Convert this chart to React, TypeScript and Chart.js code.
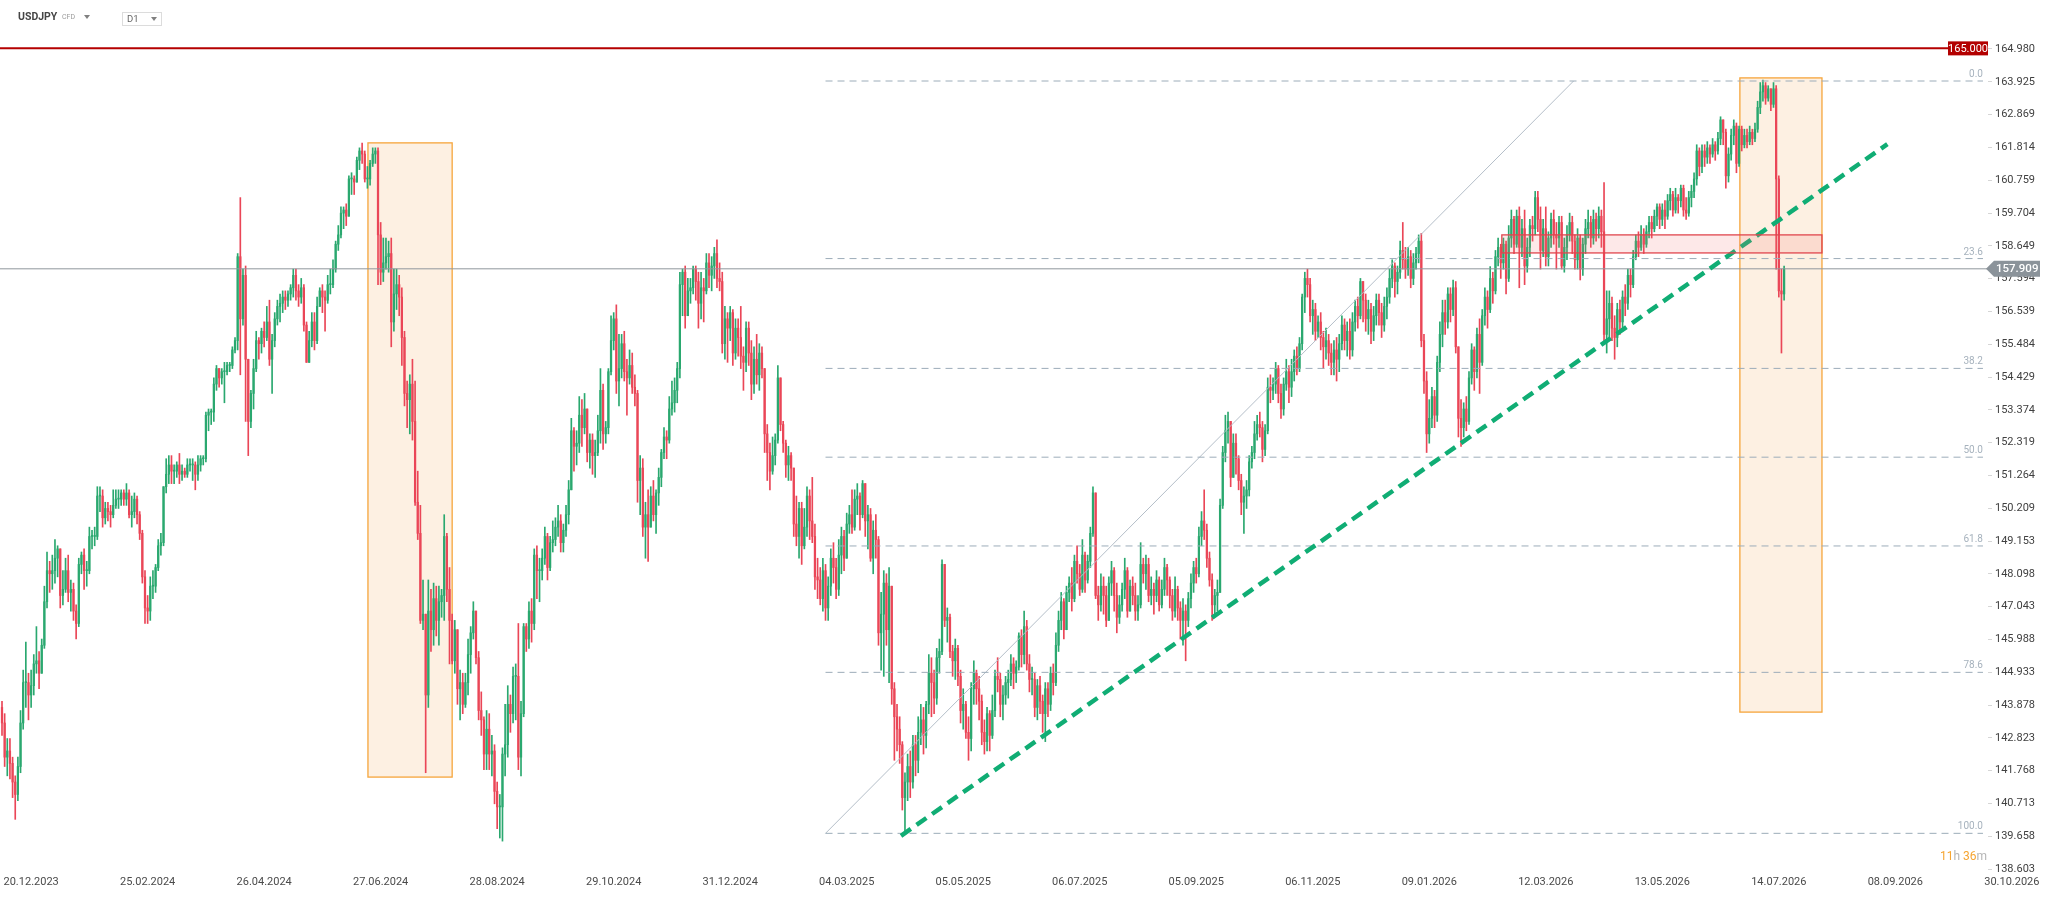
import React, { useEffect, useRef } from 'react';
import { Chart, registerables } from 'chart.js';

Chart.register(...registerables);

// ---------- data ----------
const firstOpen = 143.8;

const closes = [
  143.3,142.2,142.4,142.0,141.4,141.0,141.9,143.3,144.6,144.6,
  144.2,144.5,145.2,145.3,144.9,145.8,147.2,148.2,148.1,148.2,
  148.6,148.9,147.4,147.6,148.2,147.5,147.6,146.9,146.5,148.4,
  148.7,148.2,148.2,149.3,149.3,149.3,150.6,150.6,149.9,150.2,
  150.1,150.0,150.3,150.5,150.5,150.7,150.5,150.7,150.0,150.1,
  150.5,150.0,149.4,148.0,147.0,146.9,147.7,147.7,148.3,149.0,
  149.1,150.9,151.3,151.6,151.4,151.4,151.6,151.3,151.4,151.3,
  151.6,151.6,151.6,151.3,151.6,151.8,151.8,153.2,153.3,153.3,
  154.2,154.7,154.4,154.6,154.6,154.8,154.8,155.3,155.6,158.3,
  156.3,157.7,155.0,153.0,153.9,154.7,155.6,155.5,155.9,155.7,
  156.2,155.0,155.6,156.3,156.7,156.8,157.0,156.9,157.1,157.3,
  157.7,157.2,157.0,157.3,156.1,154.9,155.6,156.2,155.6,156.7,
  157.2,157.0,156.9,157.4,157.4,157.9,158.7,159.0,159.7,159.8,
  159.6,160.8,160.8,160.7,161.4,161.7,161.6,160.8,160.8,161.3,
  161.6,161.7,159.0,157.8,158.1,158.3,158.4,156.2,157.1,157.4,
  157.0,155.7,153.9,153.7,154.2,153.0,150.4,149.4,146.6,146.8,
  144.2,146.9,146.3,147.3,146.6,147.2,147.4,149.3,147.6,146.6,
  145.3,146.3,144.4,144.6,143.9,144.6,145.5,146.2,146.9,145.4,
  143.7,143.4,142.3,143.1,142.3,142.4,141.1,140.6,140.6,142.3,
  142.6,143.9,143.6,144.8,144.8,142.2,143.6,146.4,146.0,146.9,
  146.5,148.7,148.2,148.2,148.6,149.3,148.3,149.1,149.2,149.6,
  149.8,149.1,149.5,150.0,150.8,152.7,152.2,152.3,153.2,152.8,
  153.4,152.0,152.4,151.9,152.0,152.7,154.0,152.6,152.8,154.6,
  155.6,156.3,154.3,154.7,155.5,154.6,154.4,154.8,154.1,153.9,
  151.1,151.5,149.6,150.0,149.6,150.6,150.0,150.7,151.2,152.0,
  152.5,152.4,153.4,153.6,154.0,154.7,157.4,157.8,156.4,157.2,
  157.3,157.9,157.5,156.8,157.3,157.2,158.1,157.7,158.0,158.4,
  157.6,157.5,155.5,156.3,156.0,156.5,155.2,156.0,155.7,155.1,
  154.9,156.0,155.2,154.2,155.0,154.5,155.2,154.7,152.6,152.0,
  151.4,151.9,152.4,154.4,152.9,152.3,151.6,151.9,151.5,149.7,
  149.3,150.2,149.0,149.6,150.6,149.8,149.3,148.0,147.9,147.3,
  148.2,147.0,147.7,148.6,148.3,147.6,148.7,149.3,148.6,149.7,
  150.0,149.6,150.5,150.6,150.0,151.0,149.8,150.0,148.6,149.5,
  149.2,146.2,146.8,147.8,146.3,147.7,144.4,143.5,143.1,142.6,
  140.9,141.4,141.9,141.4,142.6,142.1,143.0,143.4,142.9,143.9,
  144.9,144.6,144.1,145.4,145.6,148.4,146.6,146.7,145.6,145.3,
  145.7,144.8,143.7,143.9,143.0,142.8,144.4,144.9,144.4,144.0,
  143.0,142.7,143.6,142.9,143.7,144.8,144.7,143.9,144.2,144.6,
  144.7,145.2,144.9,145.1,146.1,145.5,146.4,145.2,144.7,144.7,
  143.8,144.5,144.0,143.6,144.4,143.9,144.9,144.6,145.8,146.6,
  147.2,146.3,147.5,147.8,147.3,148.5,148.1,147.6,148.7,147.9,
  148.5,149.4,150.7,147.4,147.1,147.7,147.4,146.6,147.8,148.2,
  147.4,146.7,147.1,147.6,148.2,146.9,147.7,147.4,146.9,147.1,
  148.4,148.1,148.4,147.4,147.6,147.4,147.9,147.1,147.6,148.3,
  147.9,147.4,146.9,147.6,147.0,146.6,146.9,146.6,147.3,147.8,
  148.3,148.1,149.3,149.8,149.5,148.6,147.9,147.1,147.4,147.5,
  150.3,152.0,152.7,153.0,151.2,152.3,151.8,151.1,150.4,150.6,
  150.8,151.7,152.0,152.6,152.9,152.8,152.1,152.7,154.1,154.0,
  154.2,154.7,153.9,153.4,154.2,154.6,154.1,154.6,155.1,154.7,
  155.5,157.0,157.6,157.4,156.4,156.6,155.9,156.2,155.7,155.4,
  155.6,155.2,154.9,155.3,155.0,155.5,156.1,155.6,155.9,155.3,
  156.2,156.7,156.4,157.5,156.9,156.3,156.6,155.9,156.4,156.9,
  156.5,156.1,156.7,157.0,157.6,158.0,157.5,157.8,158.5,158.2,
  157.9,158.3,157.6,158.1,158.4,158.8,155.6,154.3,152.6,153.1,
  153.8,153.2,154.9,155.8,156.5,156.2,157.1,156.6,157.3,155.4,
  153.1,152.8,153.4,153.0,154.4,155.3,154.6,155.8,154.9,156.4,
  157.0,156.6,157.6,157.2,158.3,158.6,158.1,158.7,157.6,158.9,
  159.5,158.7,159.6,158.6,159.2,158.0,158.6,159.3,159.2,160.2,
  159.5,158.5,159.2,158.3,158.9,159.5,159.0,158.9,159.4,158.0,
  158.6,159.0,159.4,158.8,158.2,158.9,157.9,158.7,159.2,159.4,
  158.9,159.5,159.2,159.6,159.1,155.8,156.3,156.8,156.0,155.7,
  156.6,156.2,157.0,156.8,157.7,157.4,158.3,158.8,158.6,159.0,
  158.7,159.1,159.4,159.2,159.6,159.9,159.5,159.8,159.6,160.1,
  160.3,159.8,160.2,160.1,160.5,159.8,159.7,160.2,160.4,160.8,
  161.7,161.2,161.7,161.5,161.8,161.6,161.9,161.7,162.1,162.7,
  162.3,160.9,161.6,162.2,162.5,161.3,162.4,161.9,162.2,162.0,
  162.3,162.1,162.4,163.1,163.6,163.8,163.4,163.7,163.2,163.7,
  160.8,157.2,157.1,157.909,
];

const highs = [
  144.0,143.6,142.8,142.8,142.2,141.6,142.2,143.7,145.0,145.9,
  144.9,145.0,145.5,146.4,145.6,146.0,147.7,148.8,148.5,148.7,
  149.2,149.0,148.8,148.2,148.6,148.7,147.9,147.8,147.1,148.6,
  148.8,148.9,148.5,149.6,149.5,149.6,150.9,150.9,150.8,150.4,
  150.4,150.3,150.8,150.8,150.8,150.8,150.8,151.0,150.8,150.6,
  150.7,150.6,150.1,149.5,148.2,147.4,148.0,148.2,148.4,149.2,
  149.4,150.9,151.8,151.9,151.9,151.6,151.7,151.97,151.6,151.5,
  151.8,151.8,151.8,151.7,151.9,151.9,151.9,153.3,153.4,153.4,
  154.4,154.8,154.7,154.7,154.9,154.9,154.9,155.4,155.7,158.4,
  160.2,157.9,158.0,153.9,154.0,155.0,155.9,155.7,156.0,156.2,
  156.7,156.9,155.8,156.5,156.9,157.1,157.2,157.2,157.2,157.4,
  157.9,157.9,157.4,157.6,157.4,156.2,155.9,156.5,156.5,157.0,
  157.3,157.4,157.2,157.7,157.9,158.2,158.8,159.3,159.9,159.9,
  160.0,160.9,161.0,160.9,161.5,161.8,161.95,161.7,161.2,161.4,
  161.8,161.8,161.8,159.4,158.9,158.9,158.8,158.9,157.9,157.9,
  157.7,157.3,155.9,154.3,154.5,155.0,154.3,151.4,150.3,147.9,
  146.7,147.9,147.6,147.8,147.7,147.7,147.6,150.0,149.4,148.3,
  146.8,146.6,146.0,145.0,144.9,144.9,146.0,146.4,147.2,146.7,
  145.6,144.3,143.5,143.7,143.6,142.9,142.6,141.4,141.0,142.5,
  143.9,144.5,144.2,145.1,145.2,146.5,144.0,146.5,146.5,147.2,
  147.3,148.9,149.0,148.6,148.9,149.6,149.4,149.3,149.8,149.9,
  150.3,150.0,149.7,150.3,151.1,153.1,152.8,152.7,153.8,153.7,
  153.9,153.4,152.6,152.6,152.4,153.2,154.7,154.2,153.0,154.7,
  156.4,156.5,156.75,155.8,155.8,155.9,155.0,155.3,155.2,154.5,
  154.0,151.9,151.8,150.4,150.8,150.9,151.1,150.8,151.5,152.1,
  152.8,152.7,153.8,154.3,154.4,154.9,157.8,157.9,158.0,157.6,
  157.6,158.0,158.0,157.8,157.8,157.6,158.4,158.4,158.3,158.6,
  158.84,158.1,157.8,156.7,156.5,156.7,156.6,156.3,156.3,156.7,
  155.4,156.2,156.2,155.6,155.4,155.8,155.5,155.4,154.4,152.9,
  152.3,152.5,152.6,154.8,154.2,153.0,152.4,152.2,152.0,151.3,
  150.6,150.4,150.4,150.2,150.9,150.8,151.2,149.7,148.6,148.3,
  148.6,148.4,148.0,148.9,149.1,148.6,149.2,149.6,149.5,150.05,
  150.3,150.8,150.8,151.0,150.7,151.1,150.4,150.3,150.2,149.8,
  150.0,149.3,147.5,148.2,148.1,148.3,147.6,144.6,143.9,143.5,
  142.7,141.7,142.3,142.4,142.9,142.9,143.5,143.9,143.8,144.0,
  145.5,145.4,145.0,145.7,146.0,148.55,148.3,147.0,146.8,145.8,
  146.0,145.8,145.0,144.4,144.0,143.5,144.6,145.3,145.0,144.8,
  144.2,143.4,143.8,143.7,144.2,145.0,145.4,144.9,144.5,144.8,
  145.0,145.5,145.4,145.3,146.2,146.3,146.9,146.6,145.5,145.1,
  144.9,144.7,144.8,144.2,144.6,144.6,145.1,145.2,146.2,146.9,
  147.5,147.3,147.7,148.0,148.3,148.7,149.0,148.4,149.2,148.8,
  148.7,149.6,150.9,150.7,147.7,148.1,148.0,147.7,148.0,148.5,
  148.3,147.8,147.4,147.8,148.6,148.3,147.9,148.0,147.8,147.4,
  149.1,148.6,148.7,148.6,148.0,147.8,148.2,148.0,147.9,148.6,
  148.4,148.0,147.6,148.0,147.7,147.2,147.3,147.1,147.5,148.1,
  148.5,148.6,149.6,150.1,150.8,149.7,148.8,148.1,147.6,147.9,
  150.5,152.2,153.2,153.3,153.0,152.6,152.6,151.9,151.3,150.9,
  151.1,151.9,152.2,153.0,153.2,153.3,153.0,152.9,154.4,154.5,
  154.4,154.9,154.8,154.2,154.4,155.0,154.8,155.0,155.3,155.4,
  155.7,157.1,157.8,157.9,157.6,156.9,156.8,156.4,156.5,155.9,
  156.0,155.8,155.5,155.6,155.7,155.8,156.4,156.3,156.2,156.3,
  156.5,156.9,157.0,157.6,157.3,157.1,156.9,156.8,156.7,157.1,
  157.1,156.8,157.0,157.3,157.9,158.2,158.1,158.0,158.8,159.4,
  158.6,158.6,158.5,158.4,158.6,159.0,159.05,155.8,154.6,153.7,
  154.1,154.0,155.1,156.2,156.9,156.9,157.3,157.3,157.55,157.5,
  155.4,153.7,153.6,153.8,154.6,155.5,155.4,156.0,156.3,156.6,
  157.3,157.2,157.98,157.8,158.5,158.9,158.7,158.9,158.8,159.3,
  159.8,159.6,159.8,159.9,159.5,159.8,158.9,159.5,159.6,160.4,
  160.4,159.9,159.5,159.9,159.1,159.7,159.8,159.4,159.6,159.6,
  158.9,159.3,159.7,159.6,159.0,159.2,159.0,158.9,159.5,159.8,
  159.6,159.8,159.7,159.9,159.8,160.68,157.2,157.2,157.0,156.4,
  156.8,156.9,157.2,157.4,157.9,157.9,158.5,159.0,159.1,159.3,
  159.2,159.3,159.6,159.6,159.8,160.0,160.0,160.0,160.1,160.3,
  160.5,160.4,160.5,160.3,160.6,160.6,160.2,160.4,160.6,161.0,
  161.9,161.8,161.9,161.9,162.0,161.9,162.1,162.0,162.3,162.8,
  162.6,162.4,161.8,162.4,162.7,162.6,162.5,162.5,162.4,162.4,
  162.5,162.4,162.6,163.3,163.9,163.98,163.9,163.8,163.7,163.9,
  163.8,160.9,157.9,158.0,
];

const lows = [
  142.9,141.9,141.6,141.5,140.9,140.2,140.8,141.7,143.1,143.8,
  143.4,143.8,144.2,144.9,144.4,144.9,145.7,147.0,147.5,147.6,
  147.8,148.0,147.0,147.1,147.5,147.2,146.9,146.6,146.0,146.4,
  148.1,147.6,147.7,148.1,148.9,149.0,149.2,150.1,149.6,149.7,
  149.8,149.6,149.9,150.2,150.2,150.3,150.3,150.3,149.9,149.6,
  149.9,149.7,149.2,147.8,146.5,146.5,146.6,147.3,147.5,148.2,
  148.7,149.0,150.7,151.0,151.0,151.0,151.2,151.0,151.1,151.2,
  151.2,151.4,151.1,150.8,151.1,151.4,151.6,151.7,152.7,152.9,
  153.0,154.0,154.1,154.2,153.6,154.5,154.6,154.7,155.2,155.3,
  154.5,156.1,153.0,151.9,152.8,153.4,154.6,155.0,155.2,155.4,
  155.6,154.8,153.9,155.4,156.1,156.2,156.5,156.6,156.7,156.9,
  157.0,156.9,156.7,156.8,155.9,154.9,155.0,155.4,155.3,155.5,
  156.7,156.5,155.9,156.8,157.1,157.3,157.8,158.5,158.9,159.2,
  159.3,159.6,160.3,160.3,160.7,161.1,161.3,160.7,160.5,160.6,
  161.2,161.3,157.4,157.4,157.5,157.9,157.8,155.4,155.9,156.6,
  156.4,154.8,153.5,152.8,152.6,152.4,150.3,149.2,146.5,146.3,
  141.7,143.8,145.6,145.8,146.1,145.8,146.7,146.6,147.2,145.2,
  145.2,144.9,143.9,143.4,143.6,143.8,144.2,144.9,146.0,145.2,
  143.4,142.9,141.8,141.8,141.8,141.6,140.7,139.9,139.6,139.5,
  141.6,142.2,143.0,143.3,143.4,141.8,141.6,143.5,145.6,145.7,
  145.9,146.3,147.3,147.2,147.9,148.4,147.9,148.2,148.8,149.0,
  149.3,148.8,148.8,149.3,149.7,150.9,151.4,151.6,152.0,152.2,
  152.6,151.7,151.5,151.3,151.2,151.9,152.3,152.1,152.3,152.6,
  154.5,155.3,153.9,153.5,154.4,154.3,153.2,154.2,153.9,153.5,
  150.4,150.0,149.3,148.6,148.5,149.6,149.8,149.4,150.3,150.9,
  151.8,151.8,152.3,153.2,153.3,153.6,154.4,156.4,156.0,156.4,
  156.8,157.1,156.9,156.0,156.3,156.2,157.1,157.3,157.2,157.6,
  157.3,157.2,155.2,155.0,154.9,155.6,154.8,155.0,155.1,154.7,
  154.0,154.6,154.8,153.7,153.9,154.2,154.0,154.4,152.0,151.1,
  150.8,151.3,151.6,152.3,152.7,152.0,151.2,151.1,151.1,149.3,
  149.0,148.6,148.4,148.9,149.3,149.2,149.1,147.6,147.3,147.1,
  146.9,146.6,146.6,147.4,147.8,147.3,147.4,148.1,148.2,148.6,
  149.4,149.4,149.5,150.0,149.5,149.9,149.3,148.9,148.5,148.1,
  148.6,145.8,145.0,144.8,145.8,144.6,143.9,142.1,142.4,142.0,
  140.5,139.75,140.8,140.9,141.2,141.6,141.7,142.6,142.3,142.5,
  143.6,143.5,143.6,143.9,144.9,145.5,146.4,145.9,145.4,144.8,
  144.7,144.5,143.3,143.1,142.8,142.1,142.4,143.9,143.9,143.4,
  142.6,142.3,142.4,142.4,142.8,143.5,144.3,143.5,143.4,143.9,
  144.1,144.5,144.4,144.6,145.0,145.1,145.2,145.0,144.3,144.2,
  143.5,143.4,143.6,143.0,142.7,143.5,143.7,144.2,144.5,145.6,
  146.3,146.0,146.3,147.2,146.9,147.2,147.8,147.4,147.5,147.5,
  147.8,148.3,149.3,147.3,146.6,146.9,146.8,146.4,146.6,147.4,
  146.9,146.2,146.5,146.9,147.3,146.7,146.9,147.1,146.6,146.6,
  147.0,147.8,147.6,147.2,147.1,146.8,147.2,146.9,147.0,147.4,
  147.4,147.0,146.6,146.7,146.6,146.0,145.8,145.3,146.4,147.0,
  147.5,147.8,148.0,149.0,149.2,148.3,147.7,146.6,146.8,146.9,
  147.6,150.2,151.7,152.3,150.9,151.6,151.3,150.8,150.0,149.4,
  150.2,150.6,151.5,151.8,152.4,152.5,151.7,151.9,152.6,153.6,
  153.7,153.9,153.6,153.1,153.2,154.0,153.6,153.8,154.3,154.5,
  154.6,155.3,156.5,157.0,156.2,155.8,155.6,155.7,155.3,154.7,
  155.0,154.8,154.5,154.5,154.3,154.6,155.3,155.3,155.1,155.0,
  155.1,155.9,156.0,156.3,156.2,155.9,155.8,155.5,155.6,156.1,
  156.1,155.7,155.9,156.3,156.8,157.3,157.0,157.1,157.6,157.9,
  157.6,157.7,157.3,157.4,157.9,158.1,155.4,153.9,152.0,152.3,
  152.8,152.8,153.0,154.6,155.4,155.8,156.0,156.2,156.4,155.2,
  152.5,152.2,152.5,152.7,152.9,154.2,154.0,154.4,153.9,154.8,
  156.1,156.0,156.5,156.8,157.1,158.0,157.6,157.9,157.1,157.5,
  158.6,158.4,158.6,157.3,158.3,157.4,157.8,158.3,158.8,159.0,
  159.1,157.9,158.3,158.0,158.0,158.6,158.7,157.9,158.6,157.9,
  157.8,158.2,158.8,158.4,157.9,157.9,157.55,157.7,158.4,158.9,
  158.6,158.7,158.8,158.9,158.6,155.5,155.2,155.6,155.6,155.0,
  155.4,155.8,155.9,156.4,156.6,157.0,157.3,158.2,158.3,158.5,
  158.4,158.6,158.9,158.9,159.1,159.3,159.2,159.3,159.2,159.5,
  159.8,159.6,159.7,159.7,159.9,159.6,159.5,159.6,159.9,160.2,
  160.6,160.9,161.0,161.2,161.3,161.3,161.5,161.4,161.6,161.9,
  161.9,160.5,160.7,161.4,161.9,161.0,161.2,161.7,161.8,161.8,
  161.9,161.9,162.0,162.3,162.9,163.3,163.2,163.3,163.0,163.1,
  157.9,157.0,155.2,156.9,
];

// price axis tick values
const yTicks = [
  138.603, 139.658, 140.713, 141.768, 142.823, 143.878, 144.933, 145.988, 147.043,
  148.098, 149.153, 150.209, 151.264, 152.319, 153.374, 154.429, 155.484, 156.539,
  157.594, 158.649, 159.704, 160.759, 161.814, 162.869, 163.925, 164.98,
];

// date labels (every 44 bars, starting at bar 11)
const xLabels = [
  '20.12.2023', '25.02.2024', '26.04.2024', '27.06.2024', '28.08.2024', '29.10.2024',
  '31.12.2024', '04.03.2025', '05.05.2025', '06.07.2025', '05.09.2025', '06.11.2025',
  '09.01.2026', '12.03.2026', '13.05.2026', '14.07.2026', '08.09.2026', '30.10.2026',
];
const xLabelStart = 11;
const xLabelStep = 44;

// fibonacci retracement
const fibLevels = [0, 23.6, 38.2, 50, 61.8, 78.6, 100];
const fibHigh = 163.95;
const fibLow = 139.75;
const fibStartBar = 311;
const fibTopBar = 593.5;
const fibEndBar = 748.1;

// drawn objects
const trendLine = [
  { x: 339.5, y: 139.67 },
  { x: 712, y: 161.92 },
];
const orangeBoxes = [
  { x0: 138.2, x1: 170, lo: 141.56, hi: 161.96 },
  { x0: 656.3, x1: 687.3, lo: 143.65, hi: 164.05 },
];
const redBox = { x0: 566.4, x1: 687.3, lo: 158.42, hi: 159.0 };
const resistance = 165.0;
const resistanceEndBar = 734.9;
const lastPrice = 157.909;

const X_MIN = -0.755;
const X_MAX = 750.0;

const UP = '#2aa86f';
const DOWN = '#ea4657';

const overlayPlugin = {
  id: 'overlay',
  beforeDatasetsDraw(chart: any) {
    const { ctx, chartArea, scales } = chart;
    const x = scales.x;
    const y = scales.y;
    ctx.save();
    ctx.beginPath();
    ctx.rect(chartArea.left, chartArea.top, chartArea.right - chartArea.left, chartArea.bottom - chartArea.top);
    ctx.clip();
    orangeBoxes.forEach((b) => {
      const x0 = x.getPixelForValue(b.x0);
      const x1 = x.getPixelForValue(b.x1);
      const y0 = y.getPixelForValue(b.hi);
      const y1 = y.getPixelForValue(b.lo);
      ctx.fillStyle = '#fdf0e2';
      ctx.fillRect(x0, y0, x1 - x0, y1 - y0);
      ctx.strokeStyle = '#f6a53b';
      ctx.lineWidth = 1.3;
      ctx.strokeRect(x0, y0, x1 - x0, y1 - y0);
    });
    ctx.restore();
  },
  afterDatasetsDraw(chart: any) {
    const { ctx, scales } = chart;
    const x = scales.x;
    const y = scales.y;
    ctx.save();
    const x0 = x.getPixelForValue(redBox.x0);
    const x1 = x.getPixelForValue(redBox.x1);
    const y0 = y.getPixelForValue(redBox.hi);
    const y1 = y.getPixelForValue(redBox.lo);
    ctx.fillStyle = 'rgba(240, 110, 115, 0.16)';
    ctx.fillRect(x0, y0, x1 - x0, y1 - y0);
    ctx.strokeStyle = '#e0454d';
    ctx.lineWidth = 1.3;
    ctx.strokeRect(x0, y0, x1 - x0, y1 - y0);
    ctx.restore();
  },
  afterDraw(chart: any) {
    const { ctx, chartArea, scales } = chart;
    const x = scales.x;
    const y = scales.y;
    ctx.save();
    // date labels
    ctx.font = '11px Roboto';
    ctx.fillStyle = '#4a4a4a';
    ctx.textAlign = 'center';
    ctx.textBaseline = 'middle';
    xLabels.forEach((lab, k) => {
      const px = x.getPixelForValue(xLabelStart + k * xLabelStep);
      ctx.fillText(lab, px, 882);
    });
    // fib labels
    ctx.font = '10px Roboto';
    ctx.fillStyle = '#a6b2bd';
    ctx.textAlign = 'right';
    ctx.textBaseline = 'alphabetic';
    const fx = x.getPixelForValue(fibEndBar);
    fibLevels.forEach((lv) => {
      const p = fibHigh - ((fibHigh - fibLow) * lv) / 100;
      ctx.fillText(lv.toFixed(1), fx, y.getPixelForValue(p) - 4);
    });
    // resistance label
    const ry = y.getPixelForValue(resistance);
    const rx1 = chartArea.right;
    const rx0 = x.getPixelForValue(resistanceEndBar);
    ctx.fillStyle = '#b30000';
    ctx.fillRect(rx0, ry - 7, rx1 - rx0, 14);
    ctx.fillStyle = '#ffffff';
    ctx.font = '11px Roboto';
    ctx.textAlign = 'center';
    ctx.textBaseline = 'middle';
    ctx.fillText(resistance.toFixed(3), (rx0 + rx1) / 2, ry + 0.5);
    // last price label
    const ly = y.getPixelForValue(lastPrice);
    const lx = chartArea.right - 2;
    ctx.fillStyle = '#8b939a';
    ctx.beginPath();
    ctx.moveTo(lx, ly);
    ctx.lineTo(lx + 8, ly - 8);
    ctx.lineTo(2040, ly - 8);
    ctx.lineTo(2040, ly + 8);
    ctx.lineTo(lx + 8, ly + 8);
    ctx.closePath();
    ctx.fill();
    ctx.fillStyle = '#ffffff';
    ctx.font = '500 11.5px Roboto';
    ctx.textAlign = 'left';
    ctx.fillText(lastPrice.toFixed(3), lx + 10, ly + 0.5);
    // countdown
    ctx.font = '12px Roboto';
    ctx.textBaseline = 'middle';
    ctx.textAlign = 'left';
    const parts: [string, string][] = [
      ['11', '#f6a531'],
      ['h ', '#b5b5b5'],
      ['36', '#f6a531'],
      ['m', '#b5b5b5'],
    ];
    const total = parts.reduce((s, p) => s + ctx.measureText(p[0]).width, 0);
    let cx = 1987 - total;
    parts.forEach(([t, c]) => {
      ctx.fillStyle = c;
      ctx.fillText(t, cx, 857);
      cx += ctx.measureText(t).width;
    });
    ctx.restore();
  },
};

export default function App() {
  const canvasRef = useRef<HTMLCanvasElement | null>(null);

  useEffect(() => {
    if (!canvasRef.current) return;
    Chart.defaults.font.family = 'Roboto';
    const opens = closes.map((c, i) => (i === 0 ? firstOpen : closes[i - 1]));
    const colors = closes.map((c, i) => (c >= opens[i] ? UP : DOWN));
    const wickData = closes.map((c, i) => ({
      x: i,
      y: [Math.min(lows[i], opens[i], c), Math.max(highs[i], opens[i], c)],
    }));
    const bodyData = closes.map((c, i) => ({
      x: i,
      y: [Math.min(opens[i], c), Math.max(opens[i], c)],
    }));

    const fibDatasets = fibLevels.map((lv) => {
      const p = fibHigh - ((fibHigh - fibLow) * lv) / 100;
      return {
        type: 'line' as const,
        data: [
          { x: fibStartBar, y: p },
          { x: fibEndBar, y: p },
        ],
        borderColor: '#9cacb9',
        borderWidth: 1,
        borderDash: [7, 5],
        pointRadius: 0,
        order: 2,
      };
    });

    const chart = new Chart(canvasRef.current, {
      type: 'bar',
      data: {
        datasets: [
          ...fibDatasets,
          {
            type: 'line',
            data: [
              { x: fibStartBar, y: fibLow },
              { x: fibTopBar, y: fibHigh },
            ],
            borderColor: '#b4bec8',
            borderWidth: 1,
            pointRadius: 0,
            order: 2,
          },
          {
            type: 'line',
            data: [
              { x: X_MIN, y: lastPrice },
              { x: X_MAX, y: lastPrice },
            ],
            borderColor: '#8f969c',
            borderWidth: 1,
            pointRadius: 0,
            order: 3,
          },
          {
            type: 'line',
            data: [
              { x: X_MIN, y: resistance },
              { x: resistanceEndBar, y: resistance },
            ],
            borderColor: '#b50000',
            borderWidth: 2,
            pointRadius: 0,
            order: 1,
          },
          {
            type: 'bar',
            data: wickData as any,
            backgroundColor: colors,
            barThickness: 1,
            grouped: false,
            borderWidth: 0,
            order: 5,
          },
          {
            type: 'bar',
            data: bodyData as any,
            backgroundColor: colors,
            barThickness: 1.6,
            minBarLength: 1,
            grouped: false,
            borderWidth: 0,
            order: 4,
          },
          {
            type: 'line',
            data: trendLine,
            borderColor: '#10ad74',
            borderWidth: 4.5,
            borderDash: [12, 7],
            pointRadius: 0,
            order: 0,
          },
        ] as any,
      },
      options: {
        animation: false,
        responsive: false,
        events: [],
        layout: { padding: { top: 30, bottom: 22, left: 0, right: 0 } },
        plugins: {
          legend: { display: false },
          tooltip: { enabled: false },
        },
        scales: {
          x: {
            type: 'linear',
            display: false,
            min: X_MIN,
            max: X_MAX,
            offset: false,
          },
          y: {
            type: 'linear',
            position: 'right',
            min: 138.41,
            max: 165.591,
            afterBuildTicks: (s: any) => {
              s.ticks = yTicks.map((v) => ({ value: v }));
            },
            afterFit: (s: any) => {
              s.width = 60;
            },
            ticks: {
              autoSkip: false,
              padding: 3,
              color: '#404040',
              font: { family: 'Roboto', size: 11 },
              callback: (v: any) => Number(v).toFixed(3),
            },
            grid: {
              drawOnChartArea: false,
              drawTicks: true,
              tickLength: 4,
              color: '#d6d6d6',
            },
            border: { display: false },
          },
        },
      } as any,
      plugins: [overlayPlugin],
    });
    return () => chart.destroy();
  }, []);

  const caret = (left: number, top: number) => (
    <div
      style={{
        position: 'absolute',
        left,
        top,
        width: 0,
        height: 0,
        borderLeft: '3.5px solid transparent',
        borderRight: '3.5px solid transparent',
        borderTop: '4px solid #808080',
      }}
    />
  );

  return (
    <div
      style={{
        position: 'fixed',
        left: 0,
        top: 0,
        width: 2048,
        height: 897,
        background: '#ffffff',
        overflow: 'hidden',
        fontFamily: 'Roboto, sans-serif',
      }}
    >
      <canvas ref={canvasRef} width={2048} height={897} style={{ position: 'absolute', left: 0, top: 0 }} />
      <div style={{ position: 'absolute', left: 18, top: 10, fontSize: 10.5, fontWeight: 700, color: '#454545', lineHeight: '14px' }}>
        USDJPY
      </div>
      <div style={{ position: 'absolute', left: 62, top: 13, fontSize: 7, color: '#9a9a9a', lineHeight: '9px' }}>CFD</div>
      {caret(84, 15)}
      <div
        style={{
          position: 'absolute',
          left: 122,
          top: 12,
          width: 38,
          height: 12,
          border: '1px solid #dcdcdc',
          boxSizing: 'content-box',
        }}
      >
        <div style={{ position: 'absolute', left: 4, top: 0, fontSize: 9.5, color: '#666', lineHeight: '12px' }}>D1</div>
      </div>
      {caret(151, 17)}
    </div>
  );
}
